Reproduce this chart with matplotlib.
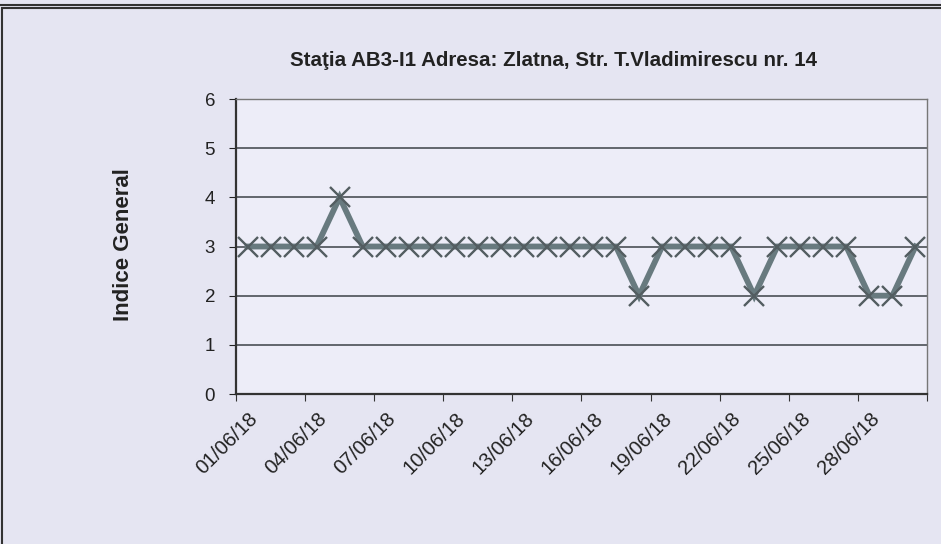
import matplotlib.pyplot as plt
import numpy as np
from matplotlib.patches import Rectangle
from matplotlib.lines import Line2D

plt.rcParams['font.family'] = ['Liberation Sans', 'DejaVu Sans']

# Daily general index values, June 2018
days = ["%02d/06/18" % d for d in range(1, 31)]
indice = [3, 3, 3, 3, 4, 3, 3, 3, 3, 3, 3, 3, 3, 3, 3,
          3, 3, 2, 3, 3, 3, 3, 2, 3, 3, 3, 3, 2, 2, 3]
y_ticks = [0, 1, 2, 3, 4, 5, 6]

bg = "#e5e5f2"
fig = plt.figure(figsize=(9.41, 5.44), dpi=100, facecolor=bg)
ax = fig.add_axes([0.2508, 0.2757, 0.7343, 0.5423])
ax.set_facecolor("#ededf8")

x = np.arange(len(days))
ax.plot(x, indice, color="#687a7f", lw=4.2, marker="x", ms=15,
        mew=1.7, mec="#535d61", solid_joinstyle="miter", zorder=3)

# category axis: ticks on boundaries, labels at every third category
ax.set_xlim(-0.5, len(days) - 0.5)
ax.set_xticks(np.arange(-0.5, len(days), 3), minor=False)
ax.set_xticklabels([])
ax.set_xticks(x[::3], minor=True)
ax.set_xticklabels(days[::3], minor=True, rotation=45, ha="right",
                   rotation_mode="anchor", fontsize=14.5, color="#222222")
ax.tick_params(axis="x", which="minor", length=0, pad=11)
ax.tick_params(axis="x", which="major", length=5, direction="out", color="#333333")

ax.set_ylim(0, 6)
ax.set_yticks(y_ticks)
ax.tick_params(axis="y", length=5, direction="out", labelsize=13.5, pad=10,
               colors="#222222")
ax.yaxis.grid(True, color="#4a4f55", lw=1.2)
ax.set_axisbelow(True)

for s in ["left", "bottom"]:
    ax.spines[s].set_color("#333333")
    ax.spines[s].set_linewidth(1.6)
for s in ["top", "right"]:
    ax.spines[s].set_color("#777777")
    ax.spines[s].set_linewidth(1.0)

ax.set_ylabel("Indice General", fontsize=16, fontweight="bold",
              color="#222222")
ax.yaxis.set_label_coords(-0.148, 0.505)
fig.text(0.588, 0.889, "Staţia AB3-I1 Adresa: Zlatna, Str. T.Vladimirescu nr. 14",
         ha="center", va="center", fontsize=14.8, fontweight="bold", color="#222222")

# outer chart frame and strip at the top
fig.patches.append(Rectangle((0.002, -0.01), 1.0, 0.995, transform=fig.transFigure,
                             fill=False, edgecolor="#333333", lw=1.5))
fig.lines.append(Line2D([0, 1], [0.991, 0.991], transform=fig.transFigure,
                        color="#333333", lw=1.5))

fig.savefig("out.png", dpi=100, facecolor=bg)
